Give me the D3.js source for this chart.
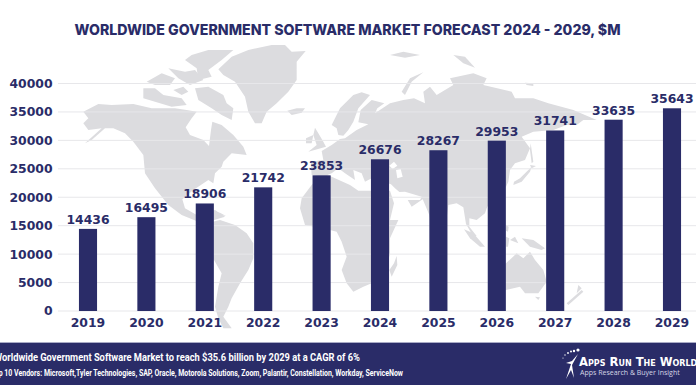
<!DOCTYPE html>
<html><head><meta charset="utf-8">
<script src="https://cdn.jsdelivr.net/npm/d3@7"></script>
<style>html,body{margin:0;padding:0;background:#fff;overflow:hidden}svg{display:block}</style>
</head><body><svg id="c" width="696" height="385"></svg>
<script>
const years = ["2019","2020","2021","2022","2023","2024","2025","2026","2027","2028","2029"];
const values = [14436,16495,18906,21742,23853,26676,28267,29953,31741,33635,35643];
const yTicks = [0,5000,10000,15000,20000,25000,30000,35000,40000];
const titleText = "WORLDWIDE GOVERNMENT SOFTWARE MARKET FORECAST 2024 - 2029, $M";
const footerLine1 = "Worldwide Government Software Market to reach $35.6 billion by 2029 at a CAGR of 6%";
const footerLine2 = "Top 10 Vendors: Microsoft,Tyler Technologies, SAP, Oracle, Motorola Solutions, Zoom, Palantir, Constellation, Workday, ServiceNow";
const logoTitle = "Apps Run The World";
const logoSub = "Apps Research & Buyer Insight";

// decorative backdrop map: outlines traced on four 3x sheets of the picture
const americasNorth = [
 [[25,215],[70,192],[110,195],[175,192],[230,205],[300,205],[335,210],[365,215],[350,235],[332,262],[345,285],[385,300],[402,318],[408,270],[412,245],[440,255],[475,285],[505,320],[515,345],[470,340],[445,365],[440,380],[420,400],[415,430],[400,420],[355,450],[322,478],[330,505],[365,525],[420,510],[450,530],[400,545],[370,545],[320,525],[280,495],[240,445],[210,400],[205,345],[175,305],[150,280],[115,265],[90,265],[50,300],[30,310],[80,265],[40,270],[25,250],[40,235]],
 [[360,145],[400,140],[445,165],[455,190],[475,205],[470,240],[440,225],[410,205],[370,180]],
 [[205,145],[240,145],[265,165],[320,175],[335,195],[290,200],[240,185],[205,175]],
 [[295,150],[325,140],[340,155],[320,165]],
 [[215,125],[260,100],[300,115],[285,135],[240,135]],
 [[280,85],[330,95],[360,90],[385,120],[345,135],[310,115]],
 [[350,45],[400,30],[475,30],[440,60],[400,90],[410,110],[370,120],[365,85],[330,60]],
 [[430,88],[470,50],[520,30],[590,15],[630,15],[650,35],[692,33],[665,65],[665,120],[640,155],[605,190],[575,215],[560,250],[540,250],[520,215],[510,170],[480,125],[445,105]],
 [[637,212],[665,205],[690,205],[680,218],[650,225]]
];
const americasSouthAfrica = [
 [[50,160],[90,150],[135,165],[170,190],[190,220],[190,265],[175,300],[150,340],[125,385],[115,410],[100,440],[125,475],[100,475],[85,445],[75,410],[85,350],[95,310],[72,270],[40,240],[40,190]],
 [[72,125],[90,128],[108,138],[85,135]],
 [[330,115],[335,85],[365,45],[395,10],[425,20],[480,45],[505,62],[545,62],[600,62],[612,100],[600,150],[625,150],[600,205],[600,250],[590,290],[545,340],[520,350],[490,365],[470,340],[455,300],[470,260],[455,215],[440,185],[400,175],[345,165]],
 [[620,258],[622,285],[605,320],[598,300],[612,280]]
];
const eurasia = [
 [[65,390],[62,350],[100,345],[95,318],[125,300],[150,282],[165,280],[200,255],[235,238],[205,232],[212,195],[245,165],[283,175],[262,190],[255,205],[300,175],[340,165],[372,160],[405,175],[400,140],[420,125],[440,150],[490,120],[480,100],[550,85],[590,100],[580,120],[665,140],[675,160],[730,160],[775,175],[850,195],[920,225],[880,225],[860,240],[830,240],[790,255],[730,260],[695,275],[720,310],[705,345],[675,355],[660,375],[655,410],[648,425],[620,455],[595,480],[590,490],[585,505],[560,525],[538,520],[538,545],[560,573],[550,575],[528,537],[520,487],[500,475],[475,480],[470,520],[445,565],[430,560],[418,510],[395,455],[420,448],[365,485],[350,460],[315,430],[303,418],[245,400],[225,410],[215,385],[190,375],[195,405],[165,385],[145,370],[125,385],[100,395]],
 [[125,240],[150,190],[190,150],[215,142],[240,150],[205,190],[190,230],[175,255],[160,272],[145,270],[140,250]],
 [[75,248],[85,265],[100,290],[108,305],[55,320],[80,300],[70,270]],
 [[48,280],[70,270],[65,295],[48,295]],
 [[335,140],[360,100],[400,82],[365,110],[345,150]],
 [[300,30],[340,20],[390,30],[345,38]],
 [[490,30],[525,35],[555,68],[520,55]]
];
const inlandSeas = [
 [[345,440],[395,455],[390,465],[340,465],[312,442]],
 [[318,375],[332,372],[338,395],[322,400]],
 [[298,362],[312,350],[322,362],[308,372]]
];
const asiaPacific = [
 [[220,345],[245,335],[270,305],[275,290],[265,300],[240,325],[222,335]],
 [[270,285],[288,288],[275,295]],
 [[272,220],[280,275],[275,280],[270,240]],
 [[72,478],[100,490],[135,530],[120,530],[90,505]],
 [[198,465],[206,470],[204,485],[198,482]],
 [[198,500],[208,505],[204,530],[198,530]],
 [[210,510],[225,500],[235,520]],
 [[245,505],[280,510],[315,535],[305,540],[270,530]],
 [[150,600],[198,580],[230,550],[250,565],[270,545],[285,570],[310,600],[320,635],[295,670],[255,670],[240,650],[198,660],[150,665]],
 [[285,680],[300,682],[295,690]],
 [[380,700],[425,660],[430,665],[385,705]],
 [[415,645],[425,655],[410,670]],
 [[255,38],[280,40],[280,48],[260,45]]
];

const svg = d3.select("#c");
const W = 696, H = 385;
const ink = "#2a2c68";
const sans = "'DejaVu Sans',sans-serif";

function drawSheet(shapes, ox, oy, fill){
  const sx = d3.scaleLinear().domain([0,3]).range([ox,ox+1]);
  const sy = d3.scaleLinear().domain([0,3]).range([oy,oy+1]);
  const outline = d3.line().x(d=>sx(d[0])).y(d=>sy(d[1])).curve(d3.curveLinearClosed);
  svg.append("g").selectAll("path").data(shapes).join("path").attr("d",outline).attr("fill",fill);
}
const landFill = "#dcdcdf";
drawSheet(americasNorth,75,40,landFill);
drawSheet(americasSouthAfrica,190,170,landFill);
drawSheet(eurasia,290,45,landFill);
drawSheet(inlandSeas,290,45,"#fff");
drawSheet(asiaPacific,440,70,landFill);

const x = d3.scaleBand().domain(years).range([58.8,701.2]).paddingInner(0.69).paddingOuter(0.345);
const y = d3.scaleLinear().domain([0,40000]).range([311,83.5]);

svg.append("g").selectAll("line").data(yTicks).join("line")
  .attr("x1",58).attr("x2",W).attr("y1",d=>y(d)).attr("y2",d=>y(d))
  .attr("stroke","#e7e7ea").attr("stroke-width",1);

svg.append("g").selectAll("rect").data(values).join("rect")
  .attr("x",(d,i)=>x(years[i])).attr("width",x.bandwidth())
  .attr("y",d=>y(d)).attr("height",d=>y(0)-y(d)).attr("fill",ink);

const axisL = d3.axisLeft(y).tickValues(yTicks).tickFormat(d3.format("d")).tickSize(0).tickPadding(0);
const gy = svg.append("g").attr("transform","translate(52.5,0)").call(axisL);
gy.select(".domain").remove();
gy.selectAll("text").attr("fill",ink).attr("font-family",sans).attr("font-weight","bold").attr("font-size",12.4);

const axisB = d3.axisBottom(x).tickSize(0).tickPadding(0);
const gx = svg.append("g").attr("transform","translate(0,318)").call(axisB);
gx.select(".domain").remove();
gx.selectAll("text").attr("fill",ink).attr("font-family",sans).attr("font-weight","bold").attr("font-size",12.4);

svg.append("g").selectAll("text").data(values).join("text")
  .attr("x",(d,i)=>x(years[i])+x.bandwidth()/2).attr("y",d=>y(d)-5)
  .attr("text-anchor","middle").attr("fill",ink)
  .attr("font-family",sans).attr("font-weight","bold").attr("font-size",12.4)
  .text(d=>d);

svg.append("text").attr("x",347.5).attr("y",35).attr("text-anchor","middle")
  .attr("fill",ink).attr("font-family","Inter,'Liberation Sans',sans-serif").attr("font-weight",800)
  .attr("font-size",14.5).attr("textLength",546).attr("lengthAdjust","spacingAndGlyphs").text(titleText);

svg.append("rect").attr("x",0).attr("y",342).attr("width",W).attr("height",H-342).attr("fill",ink);
svg.append("line").attr("x1",0).attr("x2",W).attr("y1",342.5).attr("y2",342.5).attr("stroke","#a9abc6");

const foot = "'Roboto','Liberation Sans',sans-serif";
svg.append("text").attr("x",-6).attr("y",361).attr("fill","#fff").attr("font-family",foot).attr("font-weight","bold")
  .attr("font-size",11.2).attr("textLength",366).attr("lengthAdjust","spacingAndGlyphs").text(footerLine1);
svg.append("text").attr("x",-9).attr("y",376).attr("fill","#fff").attr("font-family",foot).attr("font-weight","bold")
  .attr("font-size",8.8).attr("textLength",412).attr("lengthAdjust","spacingAndGlyphs").text(footerLine2);

// logo
const logoDots = [[563,358,.6],[565,355,.7],[568,353,.9],[571,351.5,1],[574,351,1.2],[578,350,1.6]];
svg.append("g").selectAll("circle").data(logoDots).join("circle")
  .attr("cx",d=>d[0]).attr("cy",d=>d[1]).attr("r",d=>d[2]).attr("fill","#fff");
svg.append("path").attr("d","M578 354 L572 361 L566 363 L571 364 L566 379 L571 370 L574 378 L572 365 Z").attr("fill","#fff");
svg.append("text").attr("x",579).attr("y",366).attr("fill","#fff")
  .attr("font-family","'DejaVu Sans',sans-serif").attr("font-weight","bold").attr("font-size",11.6)
  .style("font-variant","small-caps").text(logoTitle);
svg.append("text").attr("x",580).attr("y",375).attr("fill","#d5d6e6")
  .attr("font-family","'Open Sans',sans-serif").attr("font-size",7).text(logoSub);
</script></body></html>
